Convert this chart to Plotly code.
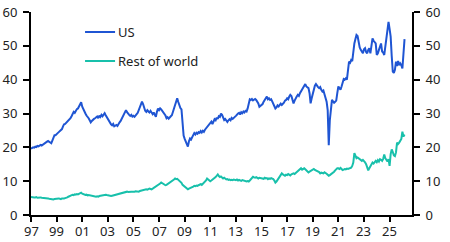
import plotly.graph_objects as go

start_year = 1997
us = [
    19.6, 19.8, 20.0, 19.9, 20.2, 20.1, 20.4, 20.3, 20.6, 20.7, 20.5, 20.8,  # 1997
    21.0, 21.2, 21.5, 21.7, 21.9, 21.6, 21.5, 21.2, 22.0, 22.8, 23.6, 23.6,  # 1998
    23.8, 24.2, 24.5, 24.8, 25.1, 25.4, 26.2, 26.8, 26.9, 27.2, 27.6, 28.0,  # 1999
    28.2, 28.6, 29.2, 29.8, 30.5, 30.2, 30.9, 31.3, 31.5, 32.0, 32.6, 33.3,  # 2000
    32.0, 31.2, 30.5, 30.0, 29.4, 29.1, 28.6, 28.0, 27.4, 27.8, 28.3, 28.4,  # 2001
    28.6, 28.9, 29.1, 28.6, 29.4, 29.0, 29.6, 29.2, 29.8, 30.1, 29.5, 28.9,  # 2002
    28.6, 27.8, 27.2, 26.8, 26.5, 26.9, 26.2, 26.4, 26.6, 26.3, 27.1, 27.4,  # 2003
    27.8, 28.5, 29.1, 30.0, 30.6, 31.0, 30.4, 29.8, 29.6, 29.3, 29.6, 29.1,  # 2004
    29.3, 29.0, 29.6, 29.8, 30.2, 30.9, 31.8, 32.6, 33.5, 32.8, 31.5, 30.8,  # 2005
    30.5, 31.0, 30.6, 30.3, 30.8, 30.2, 29.8, 30.3, 29.5, 29.0, 30.5, 31.5,  # 2006
    31.0, 31.5, 31.2, 30.8, 30.5, 30.0, 29.4, 28.6, 28.9, 28.5, 29.0, 29.2,  # 2007
    29.5, 30.5, 31.8, 32.6, 33.5, 34.5, 33.4, 32.2, 31.6, 31.2, 27.0, 23.5,  # 2008
    22.5, 21.5, 20.8, 20.2, 21.8, 22.6, 22.3, 23.2, 23.6, 24.2, 23.8, 24.3,  # 2009
    24.0, 24.5, 24.3, 24.8, 24.4, 24.9, 24.6, 25.2, 25.6, 26.0, 26.5, 26.8,  # 2010
    27.1, 27.6, 26.9, 27.8, 28.3, 28.0, 28.8, 28.4, 29.2, 29.0, 30.0, 29.6,  # 2011
    29.0, 28.1, 28.4, 27.8, 27.5, 28.0, 28.3, 28.0, 28.7, 28.4, 28.9, 29.0,  # 2012
    29.3, 29.8, 30.0, 30.2, 29.7, 30.4, 30.1, 30.6, 30.3, 30.8, 30.6, 31.5,  # 2013
    33.0, 34.2, 34.0, 34.3, 33.9, 34.1, 34.3, 34.0, 33.5, 33.0, 32.0, 32.3,  # 2014
    32.5, 32.8, 33.5, 34.0, 34.7, 35.0, 34.2, 34.5, 34.0, 34.2, 33.6, 33.0,  # 2015
    32.0, 31.5, 31.8, 32.4, 32.1, 32.6, 32.9, 32.5, 32.8, 33.2, 33.8, 34.0,  # 2016
    34.5, 34.2, 35.0, 35.5, 35.2, 34.0, 33.0, 33.8, 34.6, 35.0, 35.5, 35.2,  # 2017
    36.0, 36.5, 37.0, 37.8, 38.3, 38.7, 38.0, 37.6, 37.5, 36.0, 33.0, 34.5,  # 2018
    36.0, 37.5, 38.2, 38.7, 38.0, 37.8, 37.5, 37.8, 37.0, 36.5, 36.8, 35.5,  # 2019
    34.5, 33.5, 31.0, 20.6, 28.0, 32.0, 34.0, 33.6, 33.2, 33.5, 33.8, 36.0,  # 2020
    38.0, 37.5, 37.0, 38.0, 39.0, 40.2, 40.0, 40.4, 40.0, 43.0, 45.3, 45.0,  # 2021
    45.8, 45.5, 48.5, 50.7, 52.0, 53.2, 52.9, 51.0, 49.5, 48.8, 48.2, 47.8,  # 2022
    49.0, 49.3, 48.2, 47.8, 48.8, 49.3, 47.8, 50.0, 52.2, 51.5, 51.0, 50.7,  # 2023
    47.3, 47.8, 48.8, 49.5, 50.7, 48.3, 48.0, 47.3, 49.5, 52.0, 54.5, 57.1,  # 2024
    55.0, 52.7, 47.0, 42.4, 42.0, 42.9, 45.3, 44.0, 45.5, 44.3, 44.8, 44.3,  # 2025
    43.3, 49.8, 52.0,                                                        # 2026
]
row = [
    5.3, 5.2, 5.3, 5.2, 5.2, 5.3, 5.1, 5.2, 5.1, 5.2, 5.1, 5.1,  # 1997
    5.1, 5.0, 5.1, 5.0, 4.9, 4.8, 4.7, 4.6, 4.7, 4.6, 4.7, 4.8,  # 1998
    4.9, 4.8, 4.9, 4.8, 4.7, 4.9, 4.8, 4.9, 5.0, 5.0, 5.2, 5.4,  # 1999
    5.6, 5.7, 5.8, 6.0, 5.9, 6.1, 6.0, 6.2, 6.1, 6.3, 6.4, 6.6,  # 2000
    6.3, 6.1, 6.0, 5.9, 6.0, 5.8, 5.9, 5.8, 5.7, 5.6, 5.6, 5.5,  # 2001
    5.5, 5.4, 5.5, 5.4, 5.6, 5.7, 5.8, 5.9, 6.0, 6.1, 6.0, 5.9,  # 2002
    5.8, 5.7, 5.6, 5.6, 5.7, 5.8, 5.9, 6.0, 6.1, 6.2, 6.3, 6.3,  # 2003
    6.3, 6.4, 6.6, 6.8, 6.9, 6.8, 6.9, 6.8, 6.9, 6.8, 6.9, 6.9,  # 2004
    6.8, 6.9, 7.0, 6.9, 7.0, 6.9, 7.1, 7.2, 7.3, 7.2, 7.3, 7.5,  # 2005
    7.6, 7.5, 7.7, 7.8, 7.7, 7.6, 7.8, 8.0, 8.1, 8.3, 8.6, 8.9,  # 2006
    9.1, 9.3, 9.6, 9.4, 9.2, 8.9, 8.8, 8.9, 9.1, 9.3, 9.5, 9.8,  # 2007
    10.0, 10.3, 10.5, 10.8, 10.6, 10.7, 10.4, 10.1, 10.0, 9.5, 8.9, 8.6,  # 2008
    8.3, 8.0, 7.8, 7.6, 7.8, 7.9, 8.2, 8.1, 8.4, 8.6, 8.5, 8.7,  # 2009
    8.6, 8.8, 9.0, 9.1, 8.9, 9.2, 9.5, 9.8, 10.2, 10.8, 10.6, 10.3,  # 2010
    10.0, 10.2, 10.4, 10.6, 10.9, 11.2, 11.6, 12.0, 11.5, 11.2, 11.4, 11.0,  # 2011
    10.8, 11.0, 10.7, 10.5, 10.6, 10.4, 10.5, 10.3, 10.4, 10.3, 10.5, 10.4,  # 2012
    10.3, 10.5, 10.2, 10.4, 10.3, 10.1, 10.3, 10.2, 10.0, 10.1, 9.9, 10.0,  # 2013
    9.9, 10.2, 10.6, 11.0, 11.3, 11.1, 11.0, 11.2, 10.9, 10.8, 11.0, 10.9,  # 2014
    10.8, 10.9, 10.7, 11.0, 10.8, 10.9, 10.6, 10.8, 10.7, 10.9, 10.8, 10.6,  # 2015
    10.2, 9.6, 9.9, 10.4, 10.8, 11.3, 11.8, 12.3, 12.0, 11.8, 11.6, 11.9,  # 2016
    11.8, 12.1, 11.9, 11.7, 12.0, 12.2, 12.3, 12.1, 12.4, 12.6, 12.9, 13.3,  # 2017
    13.5, 13.8, 13.4, 13.6, 13.8, 13.5, 13.2, 13.0, 12.6, 12.8, 13.0, 13.2,  # 2018
    13.4, 13.6, 13.3, 13.2, 13.0, 12.8, 12.7, 12.3, 12.5, 12.4, 12.3, 12.6,  # 2019
    12.5, 12.2, 11.9, 11.6, 11.8, 12.0, 12.3, 12.5, 12.8, 13.2, 13.6, 13.8,  # 2020
    13.8, 13.6, 13.9, 13.5, 13.3, 13.4, 13.6, 13.5, 13.7, 13.6, 13.8, 14.0,  # 2021
    14.0, 14.5, 15.5, 18.3, 17.2, 16.8, 17.0, 16.8, 16.5, 16.3, 16.0, 16.3,  # 2022
    16.0, 15.6, 15.0, 14.2, 13.2, 13.8, 14.5, 15.0, 15.5, 15.2, 15.8, 16.0,  # 2023
    15.6, 16.2, 15.8, 16.5, 16.3, 16.0, 16.6, 17.9, 16.8, 16.4, 15.8, 16.5,  # 2024
    14.5, 18.0, 19.4, 18.6, 17.6, 17.4, 18.5, 21.4, 21.0, 21.4, 21.8, 22.5,  # 2025
    24.6, 23.2, 23.8,                                                  # 2026
]
tick_years = list(range(1997, 2027, 2))
tick_labels = [f"{y % 100:02d}" for y in tick_years]
y_ticks = [0, 10, 20, 30, 40, 50, 60]
series_names = ["US", "Rest of world"]

x = [start_year + i / 12 for i in range(len(us))]

US_COLOR = "#1f55d3"
ROW_COLOR = "#18c0ab"
FONT = "Noto Sans"
TEXT_COLOR = "#222"

fig = go.Figure()
fig.add_trace(go.Scatter(x=x, y=row, mode="lines", line=dict(color=ROW_COLOR, width=2),
                         name=series_names[1], showlegend=False))
fig.add_trace(go.Scatter(x=x, y=us, mode="lines", line=dict(color=US_COLOR, width=2),
                         name=series_names[0], showlegend=False))
fig.add_trace(go.Scatter(x=[x[0]], y=[us[0]], yaxis="y2", mode="lines",
                         line=dict(width=0), showlegend=False, hoverinfo="skip"))

axis_common = dict(showgrid=False, zeroline=False, showline=True, linecolor="black",
                   linewidth=2, automargin=False,
                   tickfont=dict(family=FONT, size=13, color=TEXT_COLOR))

fig.update_layout(
    width=450, height=242,
    margin=dict(l=31, r=38, t=12, b=27),
    plot_bgcolor="white", paper_bgcolor="white",
    xaxis=dict(range=[1997, 2026.75], tickvals=tick_years, ticktext=tick_labels,
               showticklabels=False, ticks="outside", ticklen=5, tickwidth=1.5,
               tickcolor="black", **axis_common),
    yaxis=dict(range=[0, 60], tickvals=y_ticks, ticklabelstandoff=3, ticks="outside",
               ticklen=6, tickwidth=1.5, tickcolor="black", **axis_common),
    yaxis2=dict(range=[0, 60], tickvals=y_ticks, overlaying="y", side="right",
                ticklabelstandoff=3, ticks="outside", ticklen=6, tickwidth=1.5,
                tickcolor="black", **axis_common),
    showlegend=False,
)

# x tick labels placed on the x data scale
for ty, tl in zip(tick_years, tick_labels):
    fig.add_annotation(xref="x", yref="paper", x=ty, y=0, yshift=-16,
                       text=tl, showarrow=False, xanchor="center", yanchor="middle",
                       font=dict(family=FONT, size=13, color=TEXT_COLOR))

legend_items = [(series_names[0], US_COLOR, 32), (series_names[1], ROW_COLOR, 61)]
for name, color, ypx in legend_items:
    yp = 1 - (ypx - 12) / 203
    fig.add_shape(type="line", xref="paper", yref="paper",
                  x0=(85 - 31) / 380.7, x1=(115 - 31) / 380.7, y0=yp, y1=yp,
                  line=dict(color=color, width=2))
    fig.add_annotation(xref="paper", yref="paper", x=(116 - 31) / 380.7, y=yp,
                       text=name, showarrow=False, xanchor="left", yanchor="middle",
                       font=dict(family=FONT, size=13, color=TEXT_COLOR))

fig.write_html("out.html")
